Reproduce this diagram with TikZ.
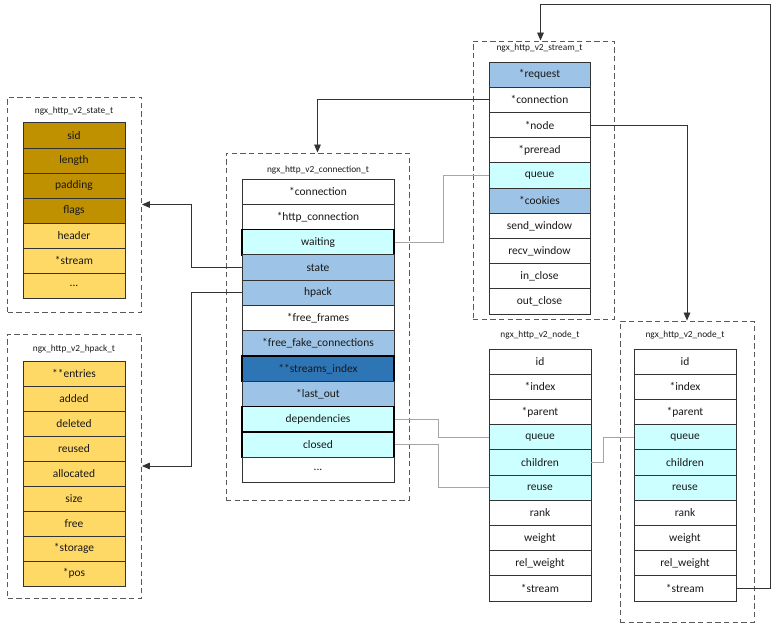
\documentclass[tikz,border=0pt]{standalone}
\usepackage{fontspec}
\setmainfont{Carlito}
\usetikzlibrary{arrows.meta,calc}
\definecolor{golddk}{HTML}{BF9000}
\definecolor{goldlt}{HTML}{FFD966}
\definecolor{cyanlt}{HTML}{CCFFFF}
\definecolor{bluelt}{HTML}{9DC3E6}
\definecolor{bluedk}{HTML}{2E75B6}
\definecolor{gline}{HTML}{A6A6A6}
\tikzset{
  field/.style={draw=black!80, line width=0.6pt, inner sep=0pt, text=black!90,
    font=\fontsize{8.6}{10}\selectfont, minimum height=18.9pt},
  hl/.style={draw=black, line width=1.1pt},
  nn/.style={},
  wa/.style={minimum width=76.5pt},
  wc/.style={minimum width=114pt},
  ws/.style={minimum width=75.8pt},
  structbox/.style={draw=black!65, dashed, dash pattern=on 4pt off 2.5pt, line width=0.7pt, inner sep=0pt},
  title/.style={font=\fontsize{7}{8}\selectfont, text=black!90, inner sep=0pt},
  arr/.style={draw=black!80, line width=0.6pt, -{Triangle[length=6pt,width=5pt]}},
  glink/.style={draw=gline, line width=0.7pt},
}
\begin{document}
\begin{tikzpicture}[x=0.75pt,y=-0.75pt]
\useasboundingbox (0,0) rectangle (784,631);

% ---------- ngx_http_v2_state_t ----------
\node[structbox, minimum width=100.5pt, minimum height=161.25pt] (stbox) at (74.5,204.5) {};
\node[title] (sttitle) at (74,111) {ngx\_http\_v2\_state\_t};
\foreach \t/\f/\s [count=\i from 0] in {sid/golddk/nn, length/golddk/nn, padding/golddk/nn, flags/golddk/nn, header/goldlt/nn, {*stream}/goldlt/nn, {...}/goldlt/nn}
  \node[field, wa, fill=\f, \s] (a\i) at (74,{135.5+25*\i}) {\t};

% ---------- ngx_http_v2_hpack_t ----------
\node[structbox, minimum width=100.5pt, minimum height=198pt] (hpbox) at (74.5,466) {};
\node[title] (hptitle) at (74,349) {ngx\_http\_v2\_hpack\_t};
\foreach \t/\f/\s [count=\i from 0] in {{**entries}/goldlt/nn, added/goldlt/nn, deleted/goldlt/nn, reused/goldlt/nn, allocated/goldlt/nn, size/goldlt/nn, free/goldlt/nn, {*storage}/goldlt/nn, {*pos}/goldlt/nn}
  \node[field, wa, fill=\f, \s] (b\i) at (74,{373.5+25*\i}) {\t};

% ---------- ngx_http_v2_connection_t ----------
\node[structbox, minimum width=137.25pt, minimum height=260.25pt] (cbox) at (317.5,326.5) {};
\node[title] (ctitle) at (318,170) {ngx\_http\_v2\_connection\_t};
\foreach \t/\f/\s [count=\i from 0] in {{*connection}/white/nn, {*http\_connection}/white/nn, waiting/cyanlt/hl, state/bluelt/nn, hpack/bluelt/nn, {*free\_frames}/white/nn, {*free\_fake\_connections}/bluelt/nn, {**streams\_index}/bluedk/hl, {*last\_out}/bluelt/nn, dependencies/cyanlt/hl, closed/cyanlt/hl, {...}/white/nn}
  \node[field, wc, fill=\f, \s, minimum height=18.98pt] (c\i) at (318,{191.65+25.3*\i}) {\t};

% ---------- ngx_http_v2_stream_t ----------
\node[structbox, minimum width=105.75pt, minimum height=208.5pt] (sbox) at (543.5,180) {};
\node[title] (stitle) at (539.5,48) {ngx\_http\_v2\_stream\_t};
\foreach \t/\f/\s [count=\i from 0] in {{*request}/bluelt/nn, {*connection}/white/nn, {*node}/white/nn, {*preread}/white/nn, queue/cyanlt/nn, {*cookies}/bluelt/nn, send\_window/white/nn, recv\_window/white/nn, in\_close/white/nn, out\_close/white/nn}
  \node[field, ws, fill=\f, \s] (s\i) at (539.5,{74.6+25.2*\i}) {\t};

% ---------- ngx_http_v2_node_t (left) ----------
\node[title] (n1title) at (540,335) {ngx\_http\_v2\_node\_t};
\foreach \t/\f/\s [count=\i from 0] in {id/white/nn, {*index}/white/nn, {*parent}/white/nn, queue/cyanlt/nn, children/cyanlt/nn, reuse/cyanlt/nn, rank/white/nn, weight/white/nn, rel\_weight/white/nn, {*stream}/white/nn}
  \node[field, wa, fill=\f, \s] (n\i) at (540,{361.6+25.2*\i}) {\t};

% ---------- ngx_http_v2_node_t (right) ----------
\node[structbox, minimum width=100.5pt, minimum height=225.75pt] (n2box) at (687,471.5) {};
\node[title] (n2title) at (685,335) {ngx\_http\_v2\_node\_t};
\foreach \t/\f/\s [count=\i from 0] in {id/white/nn, {*index}/white/nn, {*parent}/white/nn, queue/cyanlt/nn, children/cyanlt/nn, reuse/cyanlt/nn, rank/white/nn, weight/white/nn, rel\_weight/white/nn, {*stream}/white/nn}
  \node[field, wa, fill=\f, \s] (m\i) at (685,{361.6+25.2*\i}) {\t};

% ---------- black arrows ----------
\draw[arr] (c3.west) -- ++(-50,0) |- (stbox.east);
\draw[arr] (c4.west) -- ++(-50,0) |- (hpbox.east);
\draw[arr] (s1.west) -| (cbox.north);
\draw[arr] (s2.east) -| (n2box.north);
\draw[arr] (m9.east) -- ++(34,0) |- ($(sbox.north)+(-3,-36)$) -- ($(sbox.north)+(-3,0)$);

% ---------- grey links ----------
\draw[glink] (c2.east) -- ++(49,0) |- (s4.west);
\draw[glink] (c9.east) -- ++(44,0) |- (n3.west);
\draw[glink] (c10.east) -- ++(44,0) |- (n5.west);
\draw[glink] (n4.east) -- ++(12,0) |- (m3.west);
\end{tikzpicture}
\end{document}
